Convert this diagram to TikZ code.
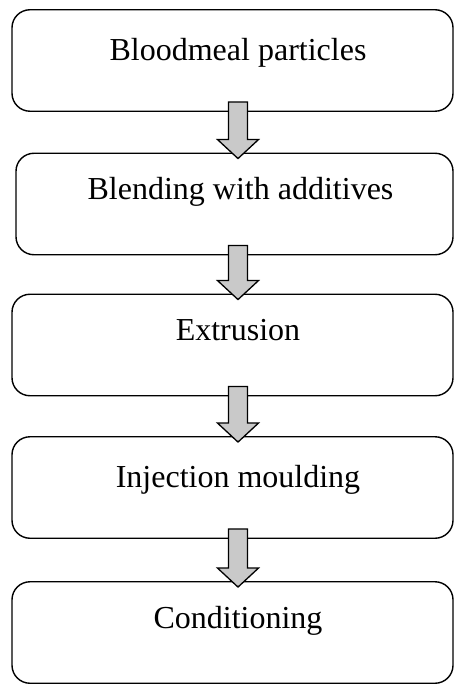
\documentclass[tikz,border=0pt]{standalone}
\usepackage{fontspec}
\setmainfont{Liberation Serif}
\usetikzlibrary{calc}
\tikzset{
  stepbox/.style={draw=black, line width=1.4pt, rounded corners=18pt, minimum height=101.5pt, inner sep=0pt},
  steptext/.style={anchor=base, inner sep=0pt, font=\fontsize{32}{38}\selectfont},
  flowarrow/.style={draw=black, line width=1.3pt, fill=black!21, line join=miter}
}
\begin{document}
\begin{tikzpicture}[x=1pt, y=-1pt]
\useasboundingbox (0,0) rectangle (454,684);
\coordinate (ax) at (238,0);
\node[stepbox, minimum width=441pt] (b1) at (232.5,60.5) {};
\node[stepbox, minimum width=437pt] (b2) at (234.5,204) {};
\node[stepbox, minimum width=441pt] (b3) at (232.5,345) {};
\node[stepbox, minimum width=441pt] (b4) at (232.5,487.5) {};
\node[stepbox, minimum width=441pt] (b5) at (232.5,632.5) {};
\node[steptext] (t1) at ($(ax |- b1.north)+(0pt,-51pt)$) {Bloodmeal particles};
\node[steptext] (t2) at ($(ax |- b2.north)+(2.5pt,-47pt)$) {Blending with additives};
\node[steptext] (t3) at ($(ax |- b3.north)+(0pt,-47pt)$) {Extrusion};
\node[steptext] (t4) at ($(ax |- b4.north)+(0pt,-51pt)$) {Injection moulding};
\node[steptext] (t5) at ($(ax |- b5.north)+(0pt,-47pt)$) {Conditioning};
\foreach \a/\b in {b1/b2, b2/b3, b3/b4, b4/b5} {
  \draw[flowarrow]
    ($(ax |- \a.south)+(-9.5pt,10pt)$) -- ($(ax |- \a.south)+(9.5pt,10pt)$)
    -- ($(ax |- \b.north)+(9.5pt,13pt)$) -- ($(ax |- \b.north)+(20.5pt,13pt)$)
    -- ($(ax |- \b.north)+(0pt,-6pt)$)
    -- ($(ax |- \b.north)+(-20.5pt,13pt)$) -- ($(ax |- \b.north)+(-9.5pt,13pt)$) -- cycle;
}
\end{tikzpicture}
\end{document}
